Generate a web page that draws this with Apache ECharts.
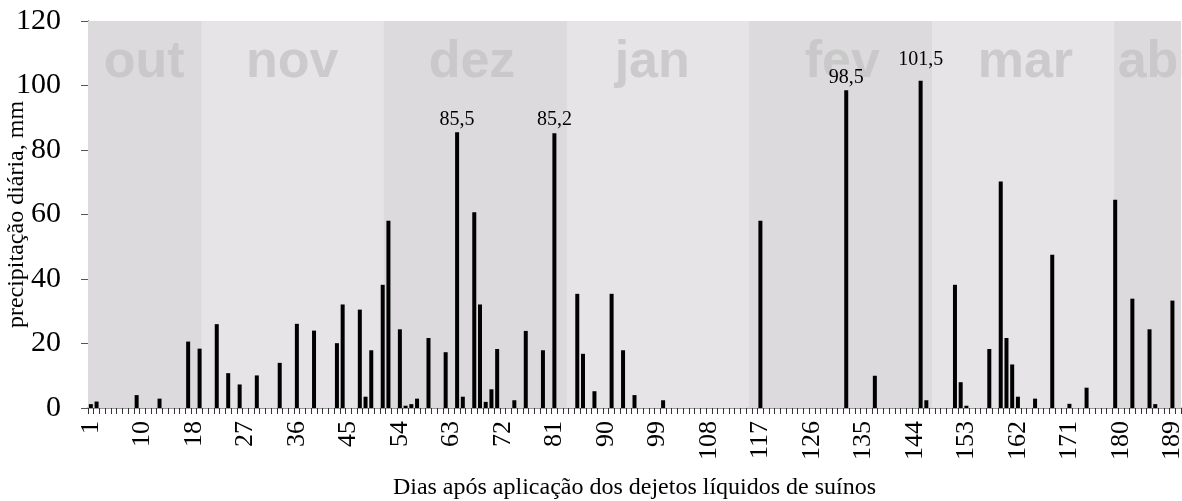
<!DOCTYPE html>
<html>
<head>
<meta charset="utf-8">
<script src="https://cdn.jsdelivr.net/npm/echarts@6/dist/echarts.min.js"></script>
<style>
html,body{margin:0;padding:0;background:#fff;}
#chart{width:1182px;height:501px;}
</style>
</head>
<body>
<div id="chart"></div>
<script>
// ---- data ----
const categoryCount = 191;               // day slots on the category axis
const tickLabels = ['1','10','18','27','36','45','54','63','72','81','90','99','108','117','126','135','144','153','162','171','180','189'];
const rainSlots = [0,1,8,12,17,19,22,24,26,29,33,36,39,43,44,47,48,49,51,52,54,55,56,57,59,62,64,65,67,68,69,70,71,74,76,79,81,85,86,88,91,93,95,100,117,132,137,145,146,151,152,153,157,159,160,161,162,165,168,171,174,179,182,185,186,189];
const rainMm    = [1.2,2.0,4.0,2.9,20.6,18.4,26.0,10.8,7.3,10.1,14.0,26.1,24.0,20.1,32.1,30.5,3.5,17.9,38.2,58.1,24.4,0.7,1.2,2.9,21.7,17.3,85.5,3.5,60.7,32.1,1.9,5.8,18.3,2.4,23.9,17.9,85.2,35.4,16.8,5.2,35.4,17.9,4.0,2.4,58.1,98.5,10.0,101.5,2.4,38.2,8.0,0.7,18.3,70.2,21.7,13.5,3.5,2.9,47.5,1.3,6.3,64.6,33.9,24.4,1.2,33.3];
const labeledSlots = [64,81,132,145];
const months = ['out','nov','dez','jan','fev','mar','abr'];
const monthEdges = [0,19.9,51.6,83.7,115.4,147.5,179.3,191];
const monthLabelX = [9.8,35.7,67.1,98.6,131.8,163.8,187.0];

// ---- build ----
const cats = [];
const barData = [];
for (let i = 0; i < categoryCount; i++) { cats.push(String(i)); barData.push(0); }
rainSlots.forEach((s, k) => { barData[s] = rainMm[k]; });
const barItems = barData.map((v, i) => {
  if (labeledSlots.indexOf(i) >= 0) {
    return {
      value: v,
      label: {
        show: true, position: 'top', distance: v > 100 ? 11 : 3,
        formatter: p => String(p.value).replace('.', ','),
        fontFamily: 'Liberation Serif', fontSize: 20, color: '#000'
      }
    };
  }
  return v;
});

const bandColors = ['#dcdadc', '#e6e4e6'];
const bands = months.map((m, k) => [
  { xAxis: monthEdges[k], itemStyle: { color: bandColors[k % 2] } },
  { xAxis: monthEdges[k + 1] }
]);
const monthPts = months.map((m, k) => ({ value: [monthLabelX[k], 107.2], name: m }));

const serif = 'Liberation Serif';
const chart = echarts.init(document.getElementById('chart'), null, { renderer: 'canvas' });
chart.setOption({
  animation: false,
  backgroundColor: '#ffffff',
  grid: { left: 88, right: 1, top: 21, bottom: 93, containLabel: false, outerBoundsMode: 'none' },
  xAxis: [
    {
      type: 'category', data: cats, boundaryGap: true,
      axisLine: { show: true, lineStyle: { color: '#7a7a7a', width: 1.5 } },
      axisTick: { show: true, interval: 0, length: 6, lineStyle: { color: '#333', width: 1 } },
      axisLabel: {
        interval: 8, rotate: 90, margin: 13, hideOverlap: false,
        fontFamily: serif, fontSize: 26, color: '#000',
        formatter: (v, i) => (i % 9 === 0 ? tickLabels[i / 9] : '')
      },
      name: 'Dias após aplicação dos dejetos líquidos de suínos',
      nameLocation: 'middle', nameGap: 68, nameMoveOverlap: false,
      nameTextStyle: { fontFamily: serif, fontSize: 24, color: '#000' },
      splitLine: { show: false }
    },
    { type: 'value', min: 0, max: categoryCount, show: false }
  ],
  yAxis: {
    type: 'value', min: 0, max: 120, interval: 20,
    axisLine: { show: true, lineStyle: { color: '#000', width: 1 } },
    axisTick: { show: true, length: 7, lineStyle: { color: '#555' } },
    axisLabel: { fontFamily: serif, fontSize: 30, color: '#000', margin: 27 },
    splitLine: { show: false },
    name: 'precipitação diária, mm', nameLocation: 'middle', nameGap: 59, nameMoveOverlap: false,
    nameTextStyle: { fontFamily: serif, fontSize: 24, color: '#000' }
  },
  series: [
    {
      type: 'line', xAxisIndex: 1, data: [], z: 0, silent: true,
      markArea: { silent: true, data: bands }
    },
    {
      type: 'scatter', xAxisIndex: 1, data: monthPts, symbolSize: 0, z: 1, silent: true,
      label: {
        show: true, position: 'inside', formatter: p => p.name,
        fontFamily: 'Liberation Sans', fontWeight: 'bold', fontSize: 52, color: '#c6c4c6'
      }
    },
    {
      type: 'bar', xAxisIndex: 0, data: barItems, barWidth: 4, z: 3,
      itemStyle: { color: '#000' }
    }
  ]
});
</script>
</body>
</html>
